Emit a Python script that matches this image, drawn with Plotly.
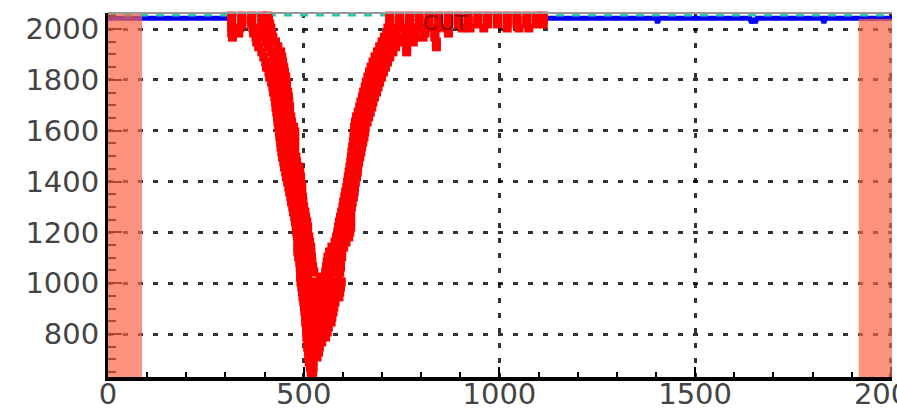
import plotly.graph_objects as go

# ---- data ----
x_tick_vals = [0, 500, 1000, 1500, 2000]
y_tick_vals = [800, 1000, 1200, 1400, 1600, 1800, 2000]

# red points, stored row by row (y level, x positions on that row)
red_rows_y = [
    2051, 2035, 2020, 2004, 1984, 1968, 1949, 1930, 1910, 1890, 1870, 1850, 1831, 1811,
    1791, 1772, 1752, 1733, 1713, 1693, 1673, 1654, 1634, 1614, 1595, 1575, 1555, 1536,
    1516, 1496, 1477, 1457, 1437, 1418, 1398, 1378, 1359, 1339, 1319, 1300, 1280, 1260,
    1241, 1221, 1201, 1182, 1162, 1142, 1123, 1103, 1083, 1064, 1044,
    # bottom of the V
    1024, 1005, 985, 965, 946, 926, 906, 887, 867, 847, 828, 808, 788, 769, 749, 729,
    710, 690, 670, 651, 635,
    # right arm
    1044, 1064, 1083, 1103, 1123, 1142, 1162, 1182, 1201, 1221, 1241, 1260, 1280, 1300,
    1319, 1339, 1359, 1378, 1398, 1418, 1437, 1457, 1477, 1496, 1516, 1536, 1555, 1575,
    1595, 1614, 1634, 1654, 1673, 1693, 1713, 1733, 1752, 1772, 1791, 1811, 1831, 1850,
    1870, 1890, 1910, 1930, 1949, 1968, 1984, 2004, 2020, 2035, 2051,
]
red_rows_x = [
    [316, 342, 367, 393, 408], [316, 342, 367, 393, 410], [316, 342, 367, 393, 413],
    [316, 337, 370, 393, 416], [316, 334, 372, 395, 418], [318, 378, 400, 421],
    [380, 405, 428], [385, 410, 434], [393, 418, 441], [398, 423, 444], [403, 426, 446],
    [405, 428, 449], [411, 431, 451], [413, 434, 454], [418, 436, 456], [421, 439, 456],
    [423, 441, 459], [426, 444, 461], [428, 446, 462], [429, 447, 464], [431, 449, 464],
    [433, 451, 467], [434, 452, 469], [436, 456, 474], [438, 459, 477], [439, 459, 477],
    [441, 459, 477], [442, 461, 477], [444, 462, 477], [446, 464, 480], [449, 467, 482],
    [451, 469, 487], [454, 472, 490], [456, 474, 492], [459, 477, 492], [462, 480, 495],
    [464, 482, 495], [467, 483, 497], [469, 484, 498], [472, 487, 500], [474, 490, 503],
    [477, 492, 505], [479, 495, 508], [481, 497, 510], [482, 498, 510], [484, 500, 513],
    [485, 502, 515], [485, 503, 518], [485, 503, 518], [487, 505, 520], [490, 507, 521],
    [491, 508, 523], [492, 510, 526],
    [492, 510, 543, 566, 590], [493, 515, 536, 558, 580, 596], [495, 515, 536, 558, 580, 594],
    [497, 518, 538, 558, 578, 592], [498, 518, 538, 558, 577, 590], [500, 520, 540, 560, 580],
    [502, 521, 541, 560, 577], [503, 523, 543, 562, 575], [505, 523, 543, 562, 572],
    [505, 525, 545, 563, 570], [507, 526, 545, 563], [508, 528, 546, 560],
    [508, 528, 546, 556], [510, 528, 546], [510, 528, 540], [512, 528, 538],
    [513, 526, 534], [514, 524], [517, 524], [519, 523], [521],
    [556, 575, 592], [558, 577, 594], [560, 580, 594], [562, 582, 597], [566, 585, 597],
    [572, 590, 602], [580, 595, 608], [584, 600, 615], [587, 602, 618], [589, 604, 620],
    [591, 606, 620], [594, 608, 620], [597, 610, 620], [600, 612, 622], [602, 614, 624],
    [605, 617, 627], [607, 619, 629], [610, 621, 630], [612, 623, 632], [614, 625, 635],
    [616, 627, 637], [618, 629, 638], [620, 631, 640], [622, 633, 643], [623, 635, 646],
    [625, 637, 648], [627, 640, 651], [628, 642, 654], [630, 644, 656], [630, 644, 657],
    [632, 647, 662], [635, 650, 666], [639, 654, 670], [643, 659, 674], [646, 662, 677],
    [650, 666, 681], [653, 670, 686], [657, 674, 690], [660, 678, 694], [664, 682, 699],
    [668, 686, 704], [672, 691, 709], [677, 696, 714], [682, 702, 720],
    [688, 708, 728, 763], [694, 714, 735, 763, 839], [700, 720, 740, 760, 780, 839],
    [706, 725, 745, 765, 785, 805, 835], [712, 735, 760, 785, 810, 835, 870],
    [715, 740, 765, 790, 815, 840, 865, 905, 925, 960, 1020, 1050, 1075],
    [720, 745, 770, 795, 820, 845, 870, 895, 920, 945, 970, 995, 1020, 1045, 1070, 1095, 1112],
    [720, 745, 770, 795, 820, 845, 870, 895, 920, 945, 970, 995, 1020, 1045, 1070, 1095, 1112],
    [720, 745, 770, 795, 820, 845, 870, 895, 920, 945, 970, 995, 1020, 1045, 1070, 1095, 1112],
]

# saturated (blue) line with small dips
blue_x = [0, 312, None, 1115, 1400, 1404, 1408, 1640, 1644, 1650, 1654, 1658, 1825, 1829, 1833, 2003]
blue_y = [2042, 2042, None, 2042, 2042, 2024, 2042, 2042, 2024, 2042, 2024, 2042, 2042, 2024, 2042, 2042]

# teal dashed threshold
teal_x = [0, 2003]
teal_y = [2055, 2055]

# salmon bands (x ranges)
band_left = [0, 87]
band_right = [1918, 2003]

red_x, red_y = [], []
for yv, xs in zip(red_rows_y, red_rows_x):
    for xv in xs:
        red_x.append(xv)
        red_y.append(yv)

fig = go.Figure()
fig.add_trace(go.Scatter(x=blue_x, y=blue_y, mode="lines",
                         line=dict(color="#0000ff", width=5), connectgaps=False,
                         showlegend=False, hoverinfo="skip"))
fig.add_trace(go.Scatter(x=teal_x, y=teal_y, mode="lines",
                         line=dict(color="rgb(40,200,170)", width=3, dash="8px,8px"),
                         showlegend=False, hoverinfo="skip"))
fig.add_trace(go.Scatter(x=red_x, y=red_y, mode="markers",
                         marker=dict(symbol="square", size=9, color="#ff0000", line=dict(width=0)),
                         cliponaxis=False, showlegend=False))

fig.add_shape(type="rect", xref="x", yref="paper", x0=band_left[0], x1=band_left[1], y0=0, y1=1,
              fillcolor="rgba(250,100,70,0.7)", line=dict(width=0), layer="above")
fig.add_shape(type="rect", xref="x", yref="y", x0=band_right[0], x1=band_right[1], y0=631, y1=2040,
              fillcolor="rgba(250,100,70,0.7)", line=dict(width=0), layer="above")
fig.add_shape(type="line", xref="paper", yref="paper", x0=0, x1=1, y0=1, y1=1,
              line=dict(color="#999999", width=2), layer="above")

fig.add_annotation(x=862, y=2024, text="CUT", showarrow=False,
                   font=dict(family="Liberation Sans", size=22, color="rgb(140,0,0)"))

tickfont = dict(family="DejaVu Sans", size=29, color="#444444")
fig.update_xaxes(range=[0, 2003], tickvals=x_tick_vals, ticktext=[str(v) for v in x_tick_vals],
                 showgrid=True, gridcolor="rgba(0,0,0,0.8)", gridwidth=3, griddash="5px,10px",
                 ticks="inside", ticklen=10, tickwidth=2, tickcolor="black",
                 minor=dict(ticks="inside", dtick=100, tick0=0, ticklen=5, tickwidth=2,
                            tickcolor="black", showgrid=False),
                 showline=True, linecolor="black", linewidth=4, zeroline=False,
                 tickfont=tickfont, automargin=False, ticklabeloverflow="allow",
                 ticklabelstandoff=-12)
fig.update_yaxes(range=[631, 2063], tickvals=y_tick_vals, ticktext=[str(v) for v in y_tick_vals],
                 showgrid=True, gridcolor="rgba(0,0,0,0.8)", gridwidth=3, griddash="5px,10px",
                 ticks="inside", ticklen=14, tickwidth=2, tickcolor="black",
                 minor=dict(ticks="inside", dtick=50, tick0=0, ticklen=8, tickwidth=2,
                            tickcolor="black", showgrid=False),
                 showline=True, linecolor="black", linewidth=3, zeroline=False,
                 tickfont=tickfont, automargin=False, ticklabeloverflow="allow")
fig.update_layout(width=897, height=412, margin=dict(l=108, r=5, t=13, b=35),
                  plot_bgcolor="white", paper_bgcolor="white")
fig.write_html("out.html")
